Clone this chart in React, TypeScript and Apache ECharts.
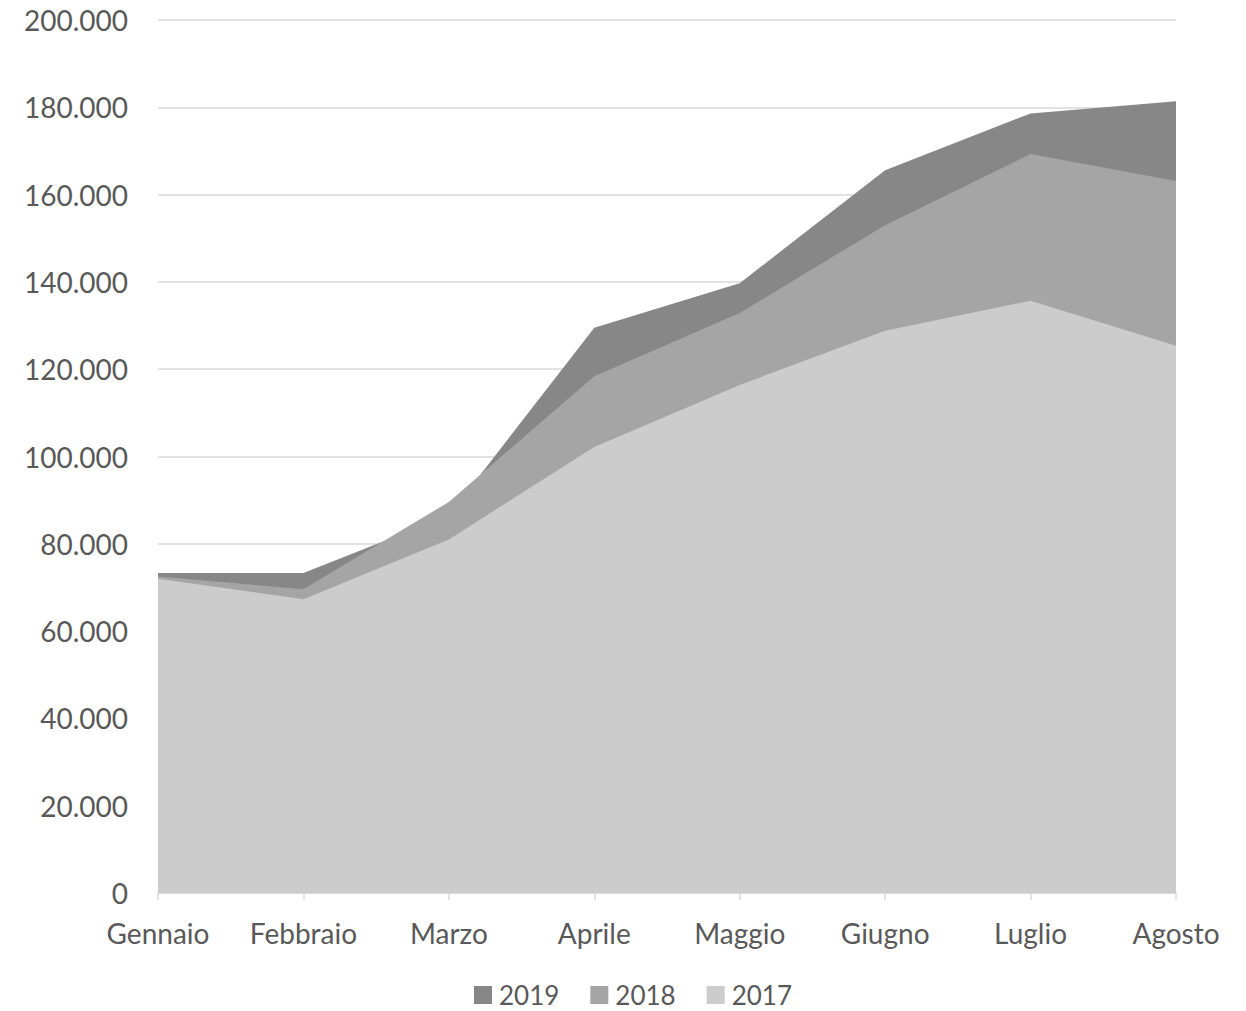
import React, { useEffect, useRef } from "react";
import * as echarts from "echarts";

const categories = ["Gennaio", "Febbraio", "Marzo", "Aprile", "Maggio", "Giugno", "Luglio", "Agosto"];
const s2019 = [73300, 73300, 86500, 129500, 139700, 165600, 178600, 181400];
const s2018 = [72500, 69600, 89600, 118400, 132900, 153000, 169300, 163100];
const s2017 = [72000, 67300, 81000, 102200, 116400, 128800, 135700, 125400];
const seriesNames = ["2019", "2018", "2017"];
const colors = ["#878787", "#a5a5a5", "#cccccc"];

const FONT = "Lato, 'Open Sans', sans-serif";

export default function App() {
  const ref = useRef<HTMLDivElement>(null);
  useEffect(() => {
    if (!ref.current) return;
    const chart = echarts.init(ref.current, null, { renderer: "svg" });
    const data = [s2019, s2018, s2017];
    chart.setOption({
      animation: false,
      textStyle: { fontFamily: FONT },
      grid: { left: 158, right: 70, top: 20, bottom: 118, containLabel: false },
      legend: {
        data: seriesNames,
        left: 474,
        top: 982,
        icon: "rect",
        itemWidth: 18,
        itemHeight: 18,
        itemGap: 31,
        padding: 0,
        textStyle: { fontSize: 26, lineHeight: 26, color: "#595959", fontFamily: FONT, padding: [0, 0, 0, 2] },
      },
      xAxis: {
        type: "category",
        data: categories,
        boundaryGap: false,
        axisLine: { lineStyle: { color: "#d9d9d9", width: 1.5 } },
        axisTick: { show: true, length: 7, lineStyle: { color: "#d9d9d9", width: 1.5 } },
        axisLabel: { fontSize: 28, color: "#595959", margin: 26, fontFamily: FONT },
        splitLine: { show: false },
      },
      yAxis: {
        type: "value",
        min: 0,
        max: 200000,
        interval: 20000,
        axisLine: { show: false },
        axisTick: { show: false },
        axisLabel: {
          fontSize: 28,
          color: "#595959",
          margin: 30,
          fontFamily: FONT,
          formatter: (v: number) => (v === 0 ? "0" : v.toLocaleString("de-DE")),
        },
        splitLine: { lineStyle: { color: "#d9d9d9", width: 1.5 } },
      },
      series: seriesNames.map((name, i) => ({
        name,
        type: "line",
        data: data[i],
        showSymbol: false,
        symbol: "none",
        lineStyle: { width: 0 },
        itemStyle: { color: colors[i] },
        areaStyle: { color: colors[i], opacity: 1 },
      })),
    });
    return () => chart.dispose();
  }, []);
  return (
    <div
      ref={ref}
      style={{ position: "fixed", left: 0, top: 0, width: 1246, height: 1011, background: "#fff" }}
    />
  );
}
